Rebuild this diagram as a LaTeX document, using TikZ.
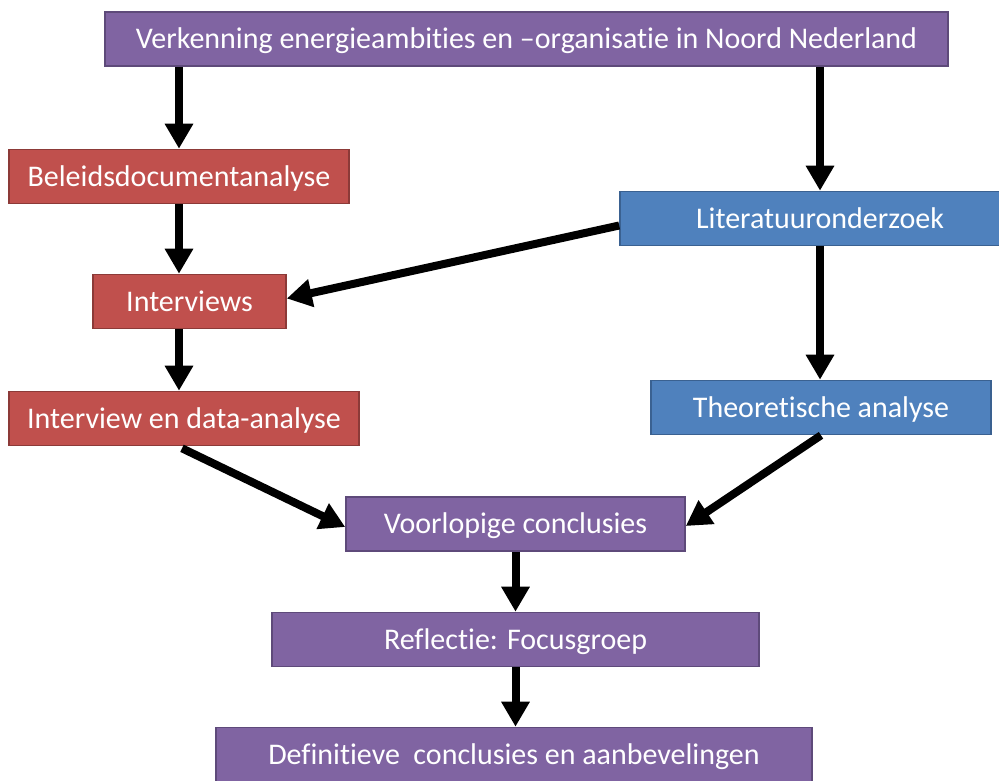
\documentclass[tikz,border=0pt]{standalone}
\usepackage{fontspec}
\setmainfont{Carlito}[Ligatures=NoCommon]
\usetikzlibrary{arrows.meta,calc}
\definecolor{purpfill}{HTML}{8064A2}
\definecolor{purpline}{HTML}{5E4A7A}
\definecolor{redfill}{HTML}{C0504D}
\definecolor{redline}{HTML}{8C3A38}
\definecolor{bluefill}{HTML}{4F81BD}
\definecolor{blueline}{HTML}{3A6191}
\begin{document}
\begin{tikzpicture}[x=1pt,y=-1pt,
  box/.style={draw, line width=1.6pt, minimum height=54pt, inner sep=0pt,
    text height=24pt, text depth=5pt,
    text=white, font=\fontsize{30}{33}\selectfont, anchor=center},
  purp/.style={box, fill=purpfill, draw=purpline},
  rd/.style={box, fill=redfill, draw=redline},
  bl/.style={box, fill=bluefill, draw=blueline},
  flow/.style={line width=8pt, -{Triangle[length=25pt,width=27pt]}}]
\useasboundingbox (0,0) rectangle (999,781);

\node[purp, minimum width=843pt] (top) at (526.5,39) {Verkenning energieambities en –organisatie in Noord Nederland};
\node[rd, minimum width=340pt] (bel) at (179,176.5) {Beleidsdocumentanalyse};
\node[bl, minimum width=400pt] (lit) at (820,218.5) {Literatuuronderzoek};
\node[rd, minimum width=193pt] (int) at (189.5,301.5) {Interviews};
\node[rd, minimum width=350pt] (ida) at (184,418.5) {Interview en data-analyse};
\node[bl, minimum width=340pt] (theo) at (821,407.5) {Theoretische analyse};
\node[purp, minimum width=339pt] (voor) at (515.5,524) {Voorlopige conclusies};
\node[purp, minimum width=487pt] (refl) at (515.5,639.5) {Reflectie: Focusgroep};
\node[purp, minimum width=596pt] (def) at (514,754.5) {Definitieve\ \ conclusies en aanbevelingen};

\draw[flow] (top.south -| bel.north) -- (bel.north);
\draw[flow] (top.south -| lit.north) -- (lit.north);
\draw[flow] (bel.south) -- (bel.south |- int.north);
\draw[flow] ($(lit.west)+(0,7)$) -- ($(int.east)+(0,-3)$);
\draw[flow] (int.south -| bel.south) -- (bel.south |- ida.north);
\draw[flow] (lit.south) -- (lit.south |- theo.north);
\draw[flow] ($(ida.south)+(-2,2)$) -- ($(voor.west)+(0,3)$);
\draw[flow] (theo.south) -- ($(voor.east)+(0,2)$);
\draw[flow] (voor.south) -- (refl.north);
\draw[flow] (refl.south) -- (refl.south |- def.north);
\end{tikzpicture}
\end{document}
